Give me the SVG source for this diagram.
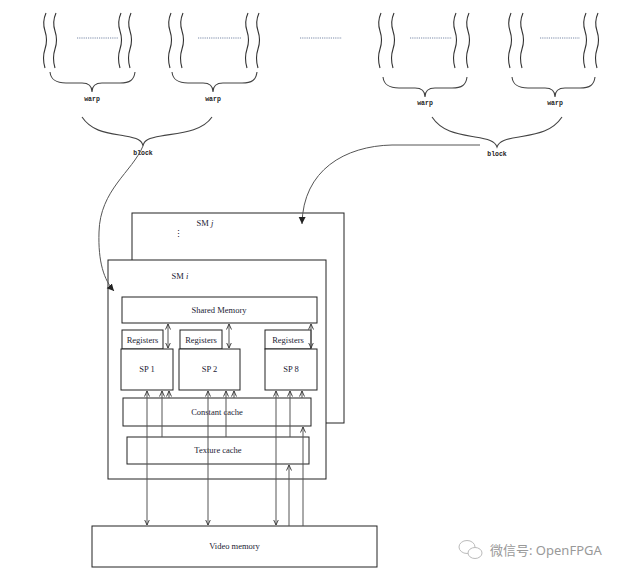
<svg xmlns="http://www.w3.org/2000/svg" width="636" height="578" viewBox="0 0 636 578">
<style>
.wv{fill:none;stroke:#333;stroke-width:1.1}
.br{fill:none;stroke:#444;stroke-width:1.1}
.dt{stroke:#7a8aa8;stroke-width:1;stroke-dasharray:1.2,1}
.bx{fill:#fff;stroke:#222;stroke-width:1}
.ln{fill:none;stroke:#555;stroke-width:1}
.t{font-family:"Liberation Serif",serif;font-size:8.5px;fill:#223;text-anchor:middle}
.tt{font-family:"Liberation Mono",monospace;font-weight:bold;font-size:6.5px;fill:#222;text-anchor:middle}
</style>
<defs>
<marker id="ah" viewBox="0 0 6 6" refX="5.5" refY="3" markerWidth="6" markerHeight="6" markerUnits="userSpaceOnUse" orient="auto-start-reverse">
<path d="M0,0.5 L5.5,3 L0,5.5" fill="none" stroke="#333" stroke-width="0.9"/>
</marker>
<marker id="ahf" viewBox="0 0 8 8" refX="7" refY="4" markerWidth="8" markerHeight="8" markerUnits="userSpaceOnUse" orient="auto">
<path d="M0,0.5 L7,4 L0,7.5 Z" fill="#222"/>
</marker>
<path id="wave" d="M0,0 q-4,9 -1,18 t0,18 t0,19"/>
</defs>
<rect width="636" height="578" fill="#fff"/>

<g id="threads">
<use href="#wave" x="46" y="13" class="wv"/><use href="#wave" x="56" y="13" class="wv"/>
<use href="#wave" x="121" y="13" class="wv"/><use href="#wave" x="131" y="13" class="wv"/>
<line x1="77" y1="38" x2="118" y2="38" class="dt"/>
<use href="#wave" x="171" y="13" class="wv"/><use href="#wave" x="183" y="13" class="wv"/>
<use href="#wave" x="248" y="13" class="wv"/><use href="#wave" x="259" y="13" class="wv"/>
<line x1="198" y1="38" x2="242" y2="38" class="dt"/>
<line x1="300" y1="38" x2="342" y2="38" class="dt"/>
<use href="#wave" x="381" y="13" class="wv"/><use href="#wave" x="394" y="13" class="wv"/>
<use href="#wave" x="456" y="13" class="wv"/><use href="#wave" x="469" y="13" class="wv"/>
<line x1="410" y1="38" x2="452" y2="38" class="dt"/>
<use href="#wave" x="511" y="13" class="wv"/><use href="#wave" x="523" y="13" class="wv"/>
<use href="#wave" x="586" y="13" class="wv"/><use href="#wave" x="598" y="13" class="wv"/>
<line x1="540" y1="38" x2="580" y2="38" class="dt"/>
</g>

<g id="warp-braces">
<path class="br" d="M50,72 C51,80 56,83 66,83 L82,83 C89,83 92,86 92,92 C92,86 95,83 102,83 L120,83 C130,83 134,80 135,72"/>
<path class="br" d="M172,72 C173,80 178,83 188,83 L203,83 C210,83 213,86 213,92 C213,86 216,83 223,83 L242,83 C252,83 256,80 257,72"/>
<path class="br" d="M383,77 C384,85 389,88 399,88 L415,88 C422,88 425,91 425,97 C425,91 428,88 435,88 L452,88 C462,88 466,85 467,77"/>
<path class="br" d="M512,77 C513,85 518,88 528,88 L545,88 C552,88 555,91 555,97 C555,91 558,88 565,88 L580,88 C590,88 594,85 595,77"/>
<text class="tt" x="92" y="101">warp</text>
<text class="tt" x="213" y="101">warp</text>
<text class="tt" x="425" y="105">warp</text>
<text class="tt" x="555" y="105">warp</text>
</g>

<g id="block-braces">
<path class="br" d="M82,117 C92,132 108,133 125,136 C137,138 142,140 143,146 C144,140 149,138 161,136 C178,133 202,132 212,117"/>
<path class="br" d="M432,117 C442,132 458,134 475,137 C488,139 495,141 497,147 C499,141 506,139 519,137 C536,134 552,132 562,117"/>
<text class="tt" x="143" y="155">block</text>
<text class="tt" x="497" y="156">block</text>
</g>

<g id="sm-j">
<rect class="bx" x="132" y="213" width="212" height="210"/>
<text class="t" x="205" y="226">SM <tspan font-style="italic">j</tspan></text>
<text class="t" x="178" y="237" font-size="7">⋮</text>
</g>

<g id="sm-i">
<rect class="bx" x="108" y="260" width="218" height="219"/>
<text class="t" x="180" y="279">SM <tspan font-style="italic">i</tspan></text>
</g>

<g id="shared-memory">
<rect class="bx" x="122" y="297" width="195" height="26"/>
<text class="t" x="219" y="313">Shared Memory</text>
</g>

<g id="reg1"><rect class="bx" x="122" y="330" width="41" height="19"/><text class="t" x="142.5" y="342.5">Registers</text></g>
<g id="reg2"><rect class="bx" x="180" y="330" width="42" height="19"/><text class="t" x="201" y="342.5">Registers</text></g>
<g id="reg8"><rect class="bx" x="265" y="330" width="46" height="19"/><text class="t" x="288" y="342.5">Registers</text></g>

<g id="sp1"><rect class="bx" x="121" y="349" width="52" height="41"/><text class="t" x="147" y="372">SP 1</text></g>
<g id="sp2"><rect class="bx" x="179" y="349" width="61" height="41"/><text class="t" x="209.5" y="372">SP 2</text></g>
<g id="sp8"><rect class="bx" x="265" y="349" width="52" height="41"/><text class="t" x="291" y="372">SP 8</text></g>

<g id="constant-cache"><rect class="bx" x="123" y="398" width="188" height="28"/><text class="t" x="217" y="414.5">Constant cache</text></g>
<g id="texture-cache"><rect class="bx" x="127" y="437" width="182" height="27"/><text class="t" x="218" y="453">Texture cache</text></g>

<g id="video-memory"><rect class="bx" x="92" y="526" width="285" height="41"/><text class="t" x="234.5" y="549">Video memory</text></g>

<g id="connectors">
<path class="ln" d="M143,146 C132,172 100,190 99,232 C98,262 104,280 114,291" marker-end="url(#ahf)"/>
<path class="ln" d="M480,145 L392,145 C345,146 303,170 302,224" marker-end="url(#ahf)"/>
<line class="ln" x1="168" y1="324" x2="168" y2="348" marker-start="url(#ah)" marker-end="url(#ah)"/>
<line class="ln" x1="229" y1="324" x2="229" y2="348" marker-start="url(#ah)" marker-end="url(#ah)"/>
<line class="ln" x1="311" y1="324" x2="311" y2="348" marker-start="url(#ah)" marker-end="url(#ah)"/>
<line class="ln" x1="147" y1="391" x2="147" y2="525" marker-start="url(#ah)" marker-end="url(#ah)"/>
<line class="ln" x1="208" y1="391" x2="208" y2="525" marker-start="url(#ah)" marker-end="url(#ah)"/>
<line class="ln" x1="276" y1="391" x2="276" y2="525" marker-start="url(#ah)" marker-end="url(#ah)"/>
<line class="ln" x1="162" y1="437" x2="162" y2="391" marker-end="url(#ah)"/>
<line class="ln" x1="226" y1="437" x2="226" y2="391" marker-end="url(#ah)"/>
<line class="ln" x1="290" y1="437" x2="290" y2="391" marker-end="url(#ah)"/>
<line class="ln" x1="169" y1="398" x2="169" y2="391" marker-end="url(#ah)"/>
<line class="ln" x1="234" y1="398" x2="234" y2="391" marker-end="url(#ah)"/>
<line class="ln" x1="302" y1="398" x2="302" y2="391" marker-end="url(#ah)"/>
<line class="ln" x1="289" y1="526" x2="289" y2="465" marker-end="url(#ah)"/>
<line class="ln" x1="303" y1="526" x2="303" y2="427" marker-end="url(#ah)"/>
</g>

<g id="watermark">
<ellipse cx="467" cy="547" rx="8" ry="6.5" fill="none" stroke="#bbb" stroke-width="1"/>
<ellipse cx="475" cy="553" rx="7" ry="5.5" fill="#fff" stroke="#bbb" stroke-width="1"/>
<text x="490" y="555" font-family="'Noto Sans', 'Noto Sans CJK SC', sans-serif" font-size="13" fill="#999">微信号: OpenFPGA</text>
</g>
</svg>
